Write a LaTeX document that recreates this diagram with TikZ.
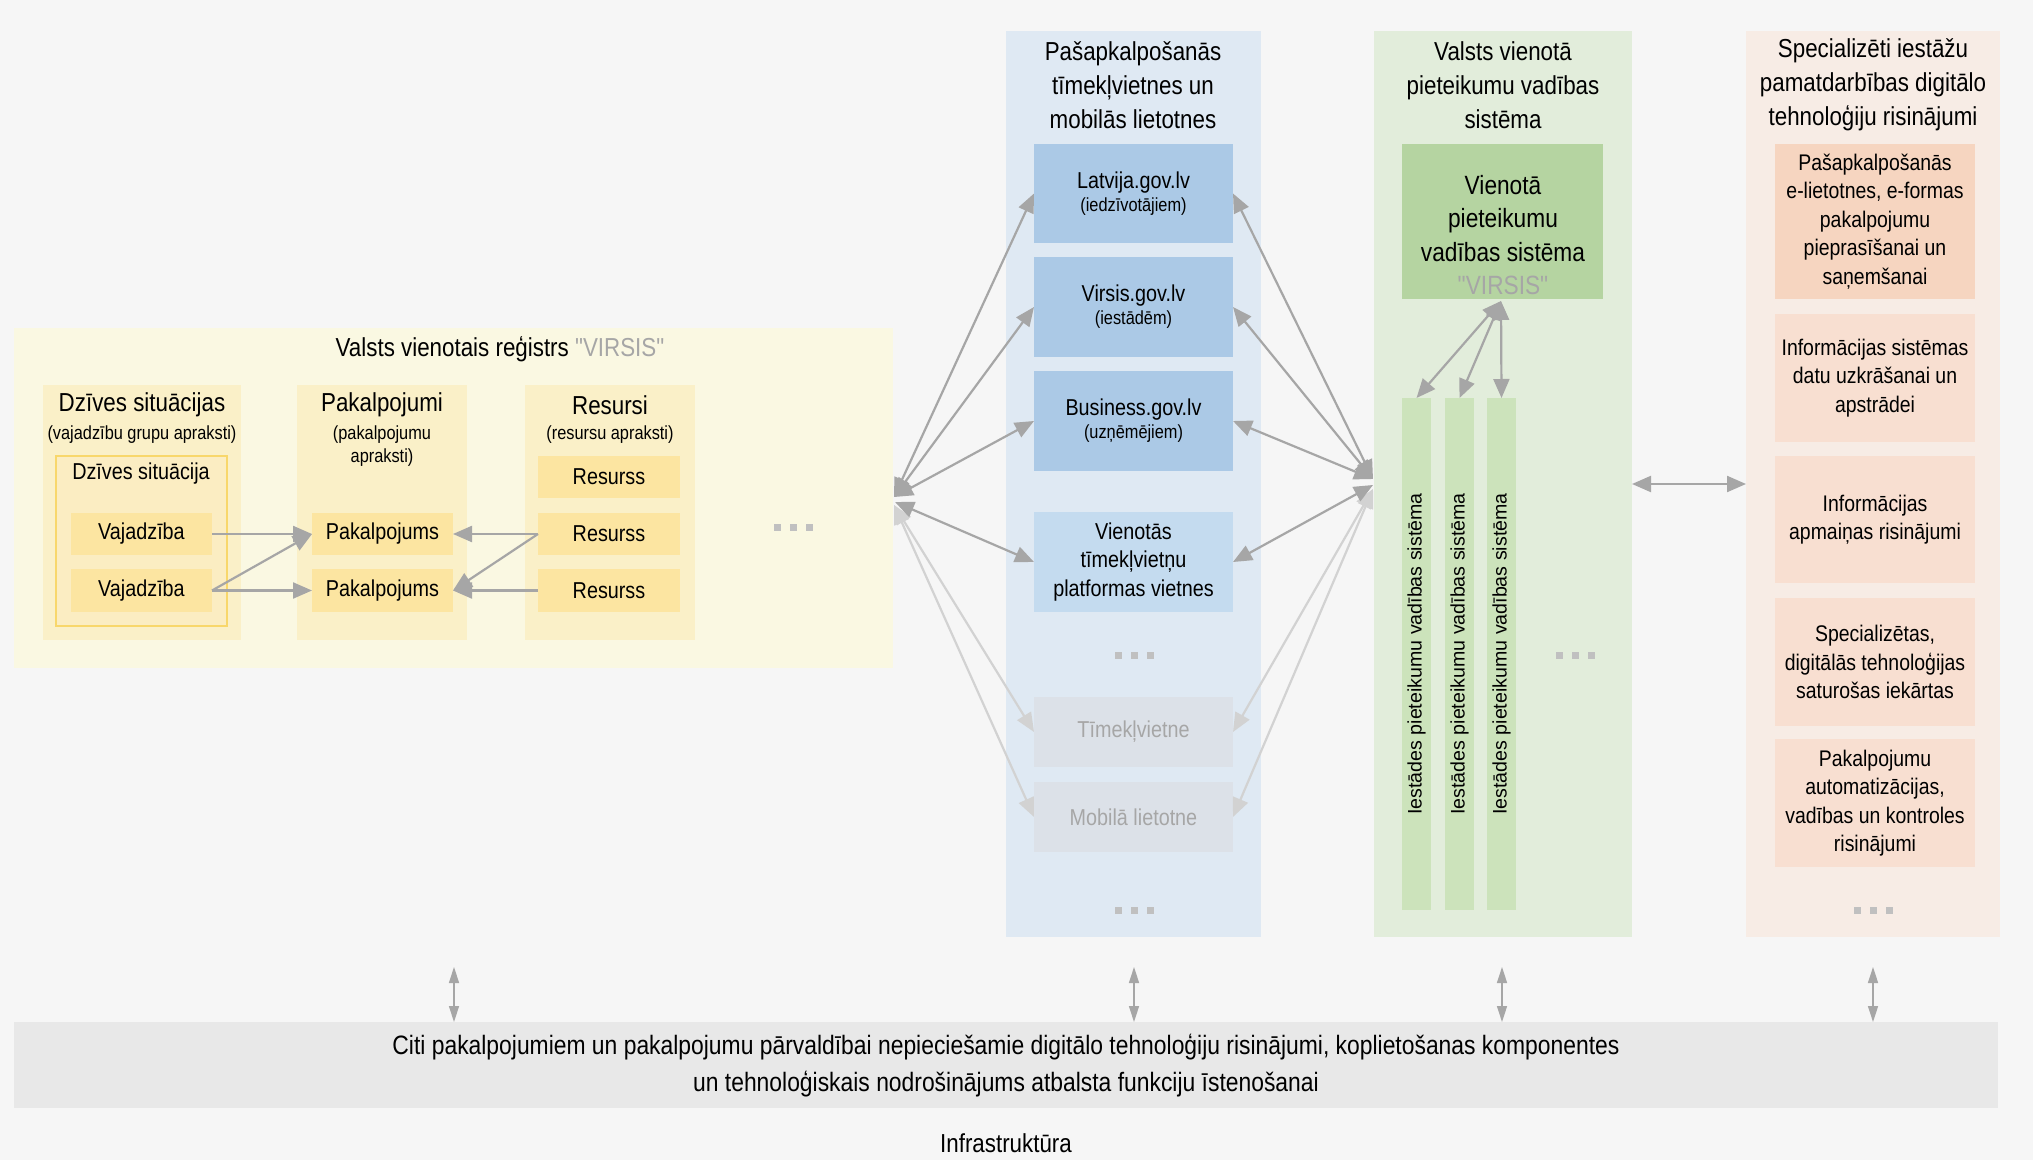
\documentclass[tikz,border=0pt]{standalone}
\usepackage{fontspec}
\setmainfont{Liberation Sans}[FakeStretch=0.86]
\newfontfamily\vfont{Liberation Sans}
\newfontfamily\qf{Liberation Sans}[FakeStretch=0.86]
\usetikzlibrary{arrows.meta,fit}
\definecolor{bgc}{HTML}{F6F6F6}
\definecolor{ypanel}{HTML}{FAF8E2}
\definecolor{ycol}{HTML}{FAF0C8}
\definecolor{ybox}{HTML}{FCE5A1}
\definecolor{yinner}{HTML}{FBEDC2}
\definecolor{yborder}{HTML}{F8D76B}
\definecolor{bpanel}{HTML}{DFE9F3}
\definecolor{bbox}{HTML}{ABC9E6}
\definecolor{bboxl}{HTML}{C4DBEF}
\definecolor{gboxc}{HTML}{DCE1E8}
\definecolor{gpanel}{HTML}{E2EDDB}
\definecolor{gvirsis}{HTML}{B5D4A1}
\definecolor{gcol}{HTML}{CCE3BB}
\definecolor{opanel}{HTML}{F7ECE5}
\definecolor{oboxa}{HTML}{F6D5C0}
\definecolor{oboxb}{HTML}{F8DFD1}
\definecolor{barc}{HTML}{E8E8E8}
\definecolor{arrc}{HTML}{A6A6A6}
\definecolor{arrl}{HTML}{D2D2D2}
\definecolor{dotc}{HTML}{C0C0C0}
\definecolor{vgray}{HTML}{A6A6A6}
\newcommand\fs[2]{\fontsize{#1}{#2}\selectfont}
% box with centred text: name, corner1, corner2, fill, text style, text
\newcommand\tbox[6]{%
  \node[fit={(#2) (#3)},rect,fill=#4] (#1) {};
  \node[#5,align=center] (#1t) at (#1.center) {#6};}
\begin{document}
\begin{tikzpicture}[x=0.5pt,y=-0.5pt,
  rect/.style={inner sep=0pt,outer sep=0pt,draw=none},
  ttl/.style={font=\fs{13}{15}},
  sub/.style={font=\fs{9.5}{11.5},align=center},
  sm/.style={font=\fs{11.5}{14}},
  pt/.style={font=\fs{13}{17},align=center},
  ob/.style={font=\fs{11.3}{14.2}},
  tipbig/.tip={Triangle[length=9.5pt,width=8pt]},
  sarr/.style={draw=arrc,line width=1.1pt,-tipbig},
  darr/.style={draw=arrc,line width=1.1pt,tipbig-tipbig},
  larr/.style={draw=arrl,line width=1.1pt,tipbig-tipbig},
  barr/.style={draw=arrc,line width=0.7pt,{Triangle[length=8pt,width=5pt]}-{Triangle[length=8pt,width=5pt]}},
  dotsq/.pic={\fill[dotc] (-19.5,-3.5) rectangle ++(7,7);
              \fill[dotc] (-3.5,-3.5) rectangle ++(7,7);
              \fill[dotc] (12.5,-3.5) rectangle ++(7,7);}
]
\fill[bgc] (0,0) rectangle (2033,1160);
\useasboundingbox (0,0) rectangle (2033,1160);

% ---------- yellow panel ----------
\node[fit={(14,328) (893,668)},rect,fill=ypanel] (yp) {};
\node[ttl] (ytitle) at (500,349) {Valsts vienotais reģistrs \textcolor{vgray}{\qf"VIRSIS"}};

\node[fit={(43,385) (241,640)},rect,fill=ycol] (colA) {};
\node[fit={(297,385) (467,640)},rect,fill=ycol] (colB) {};
\node[fit={(525,385) (695,640)},rect,fill=ycol] (colC) {};
\node[ttl] (colAt) at (142,405) {Dzīves situācijas};
\node[sub] (colAs) at (142,435) {(vajadzību grupu apraksti)};
\node[ttl] (colBt) at (382,405) {Pakalpojumi};
\node[sub] (colBs) at (382,446) {(pakalpojumu\\apraksti)};
\node[ttl] (colCt) at (610,405) {Resursi};
\node[sub] (colCs) at (610,435) {(resursu apraksti)};

\node[fit={(56,456) (227,626)},rect,fill=yinner,draw=yborder,line width=0.8pt] (dsbox) {};
\node[sm] (dst) at (141,474) {Dzīves situācija};

\tbox{vaj1}{71,513}{212,555}{ybox}{sm}{Vajadzība}
\tbox{vaj2}{71,569}{212,612}{ybox}{sm}{Vajadzība}
\tbox{pak1}{312,513}{453,555}{ybox}{sm}{Pakalpojums}
\tbox{pak2}{312,569}{453,612}{ybox}{sm}{Pakalpojums}
\tbox{res1}{538,456}{680,498}{ybox}{sm}{Resurss}
\tbox{res2}{538,513}{680,555}{ybox}{sm}{Resurss}
\tbox{res3}{538,569}{680,612}{ybox}{sm}{Resurss}

\draw[sarr] (vaj1.east) -- (pak1.west);
\draw[sarr] (vaj2.east) -- (pak2.west);
\draw[sarr] (vaj2.east) -- (pak1.west);
\draw[sarr] (res2.west) -- (pak1.east);
\draw[sarr] (res3.west) -- (pak2.east);
\draw[sarr] (res2.west) -- (pak2.east);

\pic at (793,527) {dotsq};

% ---------- blue panel ----------
\node[fit={(1006,31) (1261,937)},rect,fill=bpanel] (bp) {};
\node[pt] (bpt) at (1133,85) {Pašapkalpošanās\\tīmekļvietnes un\\mobilās lietotnes};
\tbox{latv}{1034,144}{1233,243}{bbox}{}{{\fs{11.5}{13}Latvija.gov.lv}\\[-0.5pt]{\fs{9.5}{13}(iedzīvotājiem)}}
\tbox{virs}{1034,257}{1233,357}{bbox}{}{{\fs{11.5}{13}Virsis.gov.lv}\\[-0.5pt]{\fs{9.5}{13}(iestādēm)}}
\tbox{busi}{1034,371}{1233,471}{bbox}{}{{\fs{11.5}{13}Business.gov.lv}\\[-0.5pt]{\fs{9.5}{13}(uzņēmējiem)}}
\tbox{vien}{1034,512}{1233,612}{bboxl}{font=\fs{11.5}{14.3}}{Vienotās\\tīmekļvietņu\\platformas vietnes}
\pic at (1134,655) {dotsq};
\tbox{timv}{1034,697}{1233,767}{gboxc}{font=\fs{11.5}{14},text=vgray}{Tīmekļvietne}
\tbox{mobl}{1034,782}{1233,852}{gboxc}{font=\fs{11.5}{14},text=vgray}{Mobilā lietotne}
\pic at (1134,910) {dotsq};

% ---------- green panel ----------
\node[fit={(1374,31) (1632,937)},rect,fill=gpanel] (gp) {};
\node[pt] (gpt) at (1503,85) {Valsts vienotā\\pieteikumu vadības\\sistēma};
\node[fit={(1402,144) (1603,299)},rect,fill=gvirsis] (virsis) {};
\node[font=\fs{13.2}{16.6},align=center] (virsist) at (1503,235) {Vienotā\\pieteikumu\\vadības sistēma\\\textcolor{vgray}{\qf"VIRSIS"}};
\node[fit={(1402,398) (1431,910)},rect,fill=gcol] (g1) {};
\node[fit={(1445,398) (1474,910)},rect,fill=gcol] (g2) {};
\node[fit={(1487,398) (1516,910)},rect,fill=gcol] (g3) {};
\node[rotate=90,font=\vfont\fs{9.8}{12}] (g1t) at (g1.center) {Iestādes pieteikumu vadības sistēma};
\node[rotate=90,font=\vfont\fs{9.8}{12}] (g2t) at (g2.center) {Iestādes pieteikumu vadības sistēma};
\node[rotate=90,font=\vfont\fs{9.8}{12}] (g3t) at (g3.center) {Iestādes pieteikumu vadības sistēma};
\pic at (1575,655) {dotsq};
\coordinate (vtop) at (1501,301);
\draw[darr] (vtop) -- (g1.north);
\draw[darr] (vtop) -- (g2.north);
\draw[darr] (vtop) -- (g3.north);

% ---------- orange panel ----------
\node[fit={(1746,31) (2000,937)},rect,fill=opanel] (op) {};
\node[pt] (opt) at (1873,85) {Specializēti iestāžu\\pamatdarbības digitālo\\tehnoloģiju risinājumi};
\tbox{o1}{1775,144}{1975,299}{oboxa}{ob}{Pašapkalpošanās\\e-lietotnes, e-formas\\pakalpojumu\\pieprasīšanai un\\saņemšanai}
\tbox{o2}{1775,314}{1975,442}{oboxb}{ob}{Informācijas sistēmas\\datu uzkrāšanai un\\apstrādei}
\tbox{o3}{1775,456}{1975,583}{oboxb}{ob}{Informācijas\\apmaiņas risinājumi}
\tbox{o4}{1775,598}{1975,726}{oboxb}{ob}{Specializētas,\\digitālās tehnoloģijas\\saturošas iekārtas}
\tbox{o5}{1775,739}{1975,867}{oboxb}{ob}{Pakalpojumu\\automatizācijas,\\vadības un kontroles\\risinājumi}
\pic at (1873,910) {dotsq};

% ---------- hub arrows ----------
\coordinate (hubL) at (894,497);
\coordinate (hubL2) at (895,502);
\coordinate (hubL3) at (894,505);
\coordinate (hubR) at (1373,479);
\coordinate (hubR2) at (1373,485);
\coordinate (hubR3) at (1373,489);
\draw[larr] (hubL3) -- (timv.west);
\draw[larr] (hubL3) -- (mobl.west);
\draw[larr] (hubR3) -- (timv.east);
\draw[larr] (hubR3) -- (mobl.east);
\draw[darr] (hubL) -- (latv.west);
\draw[darr] (hubL) -- (virs.west);
\draw[darr] (hubL) -- (busi.west);
\draw[darr] (hubL2) -- (vien.west);
\draw[darr] (hubR) -- (latv.east);
\draw[darr] (hubR) -- (virs.east);
\draw[darr] (hubR) -- (busi.east);
\draw[darr] (hubR2) -- (vien.east);

\draw[darr] (gp.east) -- (op.west);

% ---------- bottom ----------
\node[fit={(14,1022) (1998,1108)},rect,fill=barc] (bar) {};
\node[font=\fs{13.3}{18.5},align=center] (bart) at (1006,1066) {Citi pakalpojumiem un pakalpojumu pārvaldībai nepieciešamie digitālo tehnoloģiju risinājumi, koplietošanas komponentes\\un tehnoloģiskais nodrošinājums atbalsta funkciju īstenošanai};
\node[font=\fs{13}{15}] (infra) at (1006,1143) {Infrastruktūra};
\coordinate (b1) at (454,967);
\coordinate (b2) at (1134,967);
\coordinate (b3) at (1502,967);
\coordinate (b4) at (1873,967);
\draw[barr] (b1) -- (b1 |- bar.north);
\draw[barr] (b2) -- (b2 |- bar.north);
\draw[barr] (b3) -- (b3 |- bar.north);
\draw[barr] (b4) -- (b4 |- bar.north);
\end{tikzpicture}
\end{document}
